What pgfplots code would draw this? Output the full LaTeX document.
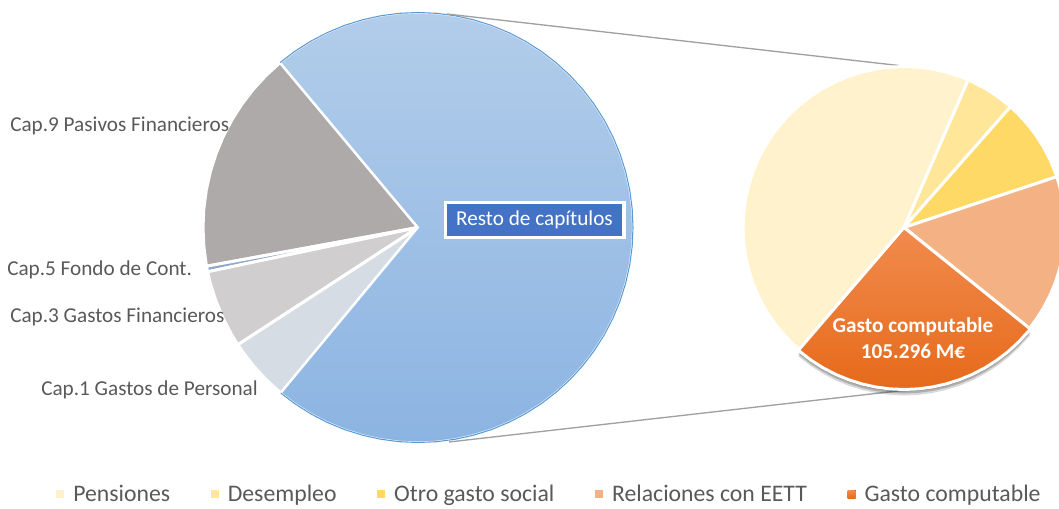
\documentclass[border=0pt]{standalone}
\usepackage{pgfplots}
\pgfplotsset{compat=1.18}
\usepgfplotslibrary{polar}
\usetikzlibrary{shadows}
\usepackage{fontspec}
\setmainfont{Carlito}
\definecolor{cRestoT}{RGB}{178,205,234}
\definecolor{cRestoB}{RGB}{140,180,226}
\definecolor{cRestoL}{RGB}{91,155,213}
\definecolor{cCapNueve}{RGB}{174,170,170}
\definecolor{cCapCinco}{RGB}{143,167,200}
\definecolor{cCapTres}{RGB}{208,206,206}
\definecolor{cCapUno}{RGB}{214,220,228}
\definecolor{cPens}{RGB}{255,242,204}
\definecolor{cDesem}{RGB}{255,230,153}
\definecolor{cOtro}{RGB}{255,217,102}
\definecolor{cRel}{RGB}{244,177,131}
\definecolor{cGastoT}{RGB}{241,139,78}
\definecolor{cGastoB}{RGB}{230,106,26}
\definecolor{cBox}{RGB}{68,114,196}
\definecolor{cTxt}{RGB}{89,89,89}
\definecolor{cConn}{RGB}{160,160,160}
\newcommand{\lblfont}{\fontsize{15.9}{19}\selectfont}
\begin{document}
\begin{tikzpicture}
\useasboundingbox (0,0) rectangle (794.25pt,381pt);
% ---------------- left pie (slice shares in % of total: Resto 72.1, Cap.9 16.8, Cap.5 0.42, Cap.3 5.88, Cap.1 4.8)
\begin{axis}[at={(0,0)}, anchor=south west, scale only axis,
  width=794.25pt, height=381pt, hide axis, clip=false,
  xmin=-418, xmax=641, ymin=-280.5, ymax=227.5]
\addplot[data cs=polar, fill=cCapNueve, draw=white, line width=2.25pt] coordinates {
 (0,0) (129.9,215) (135,215) (140,215) (145,215) (150,215) (155,215) (160,215) (165,215)
 (170,215) (175,215) (180,215) (185,215) (190,215) (190.38,215)} -- cycle;
\addplot[data cs=polar, fill=cCapCinco, draw=white, line width=2.25pt] coordinates {
 (0,0) (190.38,215) (191.1,215) (191.89,215)} -- cycle;
\addplot[data cs=polar, fill=cCapTres, draw=white, line width=2.25pt] coordinates {
 (0,0) (191.89,215) (195,215) (200,215) (205,215) (210,215) (213.06,215)} -- cycle;
\addplot[data cs=polar, fill=cCapUno, draw=white, line width=2.25pt] coordinates {
 (0,0) (213.06,215) (215,215) (220,215) (225,215) (230,215) (230.34,215)} -- cycle;
\addplot[data cs=polar, top color=cRestoT, bottom color=cRestoB, draw=white, line width=1.5pt] coordinates {
 (0,0) (-129.66,215) (-125,215) (-120,215) (-115,215) (-110,215) (-105,215) (-100,215)
 (-95,215) (-90,215) (-85,215) (-80,215) (-75,215) (-70,215) (-65,215) (-60,215) (-55,215)
 (-50,215) (-45,215) (-40,215) (-35,215) (-30,215) (-25,215) (-20,215) (-15,215) (-10,215)
 (-5,215) (0,215) (5,215) (10,215) (15,215) (20,215) (25,215) (30,215) (35,215) (40,215)
 (45,215) (50,215) (55,215) (60,215) (65,215) (70,215) (75,215) (80,215) (85,215) (90,215)
 (95,215) (100,215) (105,215) (110,215) (115,215) (120,215) (125,215) (129.9,215)} -- cycle;
\addplot[data cs=polar, draw=cRestoL, line width=0.8pt] coordinates {
 (-129.66,215) (-125,215) (-120,215) (-115,215) (-110,215) (-105,215) (-100,215)
 (-95,215) (-90,215) (-85,215) (-80,215) (-75,215) (-70,215) (-65,215) (-60,215) (-55,215)
 (-50,215) (-45,215) (-40,215) (-35,215) (-30,215) (-25,215) (-20,215) (-15,215) (-10,215)
 (-5,215) (0,215) (5,215) (10,215) (15,215) (20,215) (25,215) (30,215) (35,215) (40,215)
 (45,215) (50,215) (55,215) (60,215) (65,215) (70,215) (75,215) (80,215) (85,215) (90,215)
 (95,215) (100,215) (105,215) (110,215) (115,215) (120,215) (125,215) (129.9,215)};
\node[anchor=base west, inner sep=0pt, text=cTxt, font=\lblfont] at (axis cs:-408,95.5) {Cap.9 Pasivos Financieros};
\node[anchor=base west, inner sep=0pt, text=cTxt, font=\lblfont] at (axis cs:-411,-47.5) {Cap.5 Fondo de Cont.};
\node[anchor=base west, inner sep=0pt, text=cTxt, font=\lblfont] at (axis cs:-408,-94.5) {Cap.3 Gastos Financieros};
\node[anchor=base west, inner sep=0pt, text=cTxt, font=\lblfont] at (axis cs:-377,-167.5) {Cap.1 Gastos de Personal};
\node[fill=cBox, draw=white, line width=2.6pt, inner sep=0pt, minimum width=133.9pt,
  minimum height=26.2pt, text=white, font=\lblfont] at (axis cs:116.5,7.5) {Resto de capítulos};
\end{axis}
% ---------------- right pie (M EUR: Pensiones 186.5, Desempleo 20.5, Otro 34.6, Relaciones EETT 65.5, Gasto computable 105.296)
\begin{axis}[at={(0,0)}, anchor=south west, scale only axis,
  width=794.25pt, height=381pt, hide axis, clip=true,
  xmin=-904, xmax=155, ymin=-280.5, ymax=227.5,
  legend columns=-1,
  legend image code/.code={\fill[#1, draw=none] (0pt,-3pt) rectangle (6pt,3pt);},
  legend style={at={(rel axis cs:0.0529,0.0266)}, anchor=west, draw=none, fill=none,
    inner sep=0pt, nodes={inner sep=0pt, text=cTxt},
    font=\fontsize{17.8}{21}\selectfont,
    /tikz/every odd column/.append style={column sep=6.75pt},
    /tikz/every even column/.append style={column sep=30.5pt}}]
\addplot[forget plot, cConn, line width=1pt] coordinates {(-457,213.5) (-1,161.5)};
\addplot[forget plot, cConn, line width=1pt] coordinates {(-455,-214.5) (2,-162.5)};
\addplot[forget plot, data cs=polar, draw=none, fill=none,
  drop shadow={shadow xshift=0pt, shadow yshift=-4.5pt, opacity=0.15, fill=black},
  drop shadow={shadow xshift=0pt, shadow yshift=-3pt, opacity=0.2, fill=black},
  drop shadow={shadow xshift=0pt, shadow yshift=-1.5pt, opacity=0.25, fill=black}] coordinates {
 (0,0) (-130.7,162) (-130,162) (-125,162) (-120,162) (-115,162) (-110,162) (-105,162)
 (-100,162) (-95,162) (-90,162) (-85,162) (-80,162) (-75,162) (-70,162) (-65,162)
 (-60,162) (-55,162) (-50,162) (-45,162) (-40,162) (-38.8,162)} -- cycle;
\addplot[data cs=polar, fill=cPens, draw=white, line width=2.25pt] coordinates {
 (0,0) (66.5,161) (70,161) (75,161) (80,161) (85,161) (90,161) (95,161) (100,161) (105,161)
 (110,161) (115,161) (120,161) (125,161) (130,161) (135,161) (140,161) (145,161) (150,161)
 (155,161) (160,161) (165,161) (170,161) (175,161) (180,161) (185,161) (190,161) (195,161)
 (200,161) (205,161) (210,161) (215,161) (220,161) (225,161) (229.3,161)} -- cycle;
\addlegendentry{Pensiones}
\addplot[data cs=polar, fill=cDesem, draw=white, line width=2.25pt] coordinates {
 (0,0) (48.6,161) (50,161) (55,161) (60,161) (65,161) (66.5,161)} -- cycle;
\addlegendentry{Desempleo}
\addplot[data cs=polar, fill=cOtro, draw=white, line width=2.25pt] coordinates {
 (0,0) (18.4,161) (20,161) (25,161) (30,161) (35,161) (40,161) (45,161) (48.6,161)} -- cycle;
\addlegendentry{Otro gasto social}
\addplot[data cs=polar, fill=cRel, draw=white, line width=2.25pt] coordinates {
 (0,0) (-38.8,161) (-35,161) (-30,161) (-25,161) (-20,161) (-15,161) (-10,161) (-5,161)
 (0,161) (5,161) (10,161) (15,161) (18.4,161)} -- cycle;
\addlegendentry{Relaciones con EETT}
\addplot[data cs=polar, top color=cGastoT, bottom color=cGastoB, draw=white, line width=2.25pt] coordinates {
 (0,0) (-130.7,162) (-130,162) (-125,162) (-120,162) (-115,162) (-110,162) (-105,162)
 (-100,162) (-95,162) (-90,162) (-85,162) (-80,162) (-75,162) (-70,162) (-65,162)
 (-60,162) (-55,162) (-50,162) (-45,162) (-40,162) (-38.8,162)} -- cycle;
\addlegendentry{Gasto computable}
\node[anchor=base, inner sep=0pt, text=white, font=\lblfont\bfseries] at (axis cs:9,-104.5) {Gasto computable};
\node[anchor=base, inner sep=0pt, text=white, font=\lblfont\bfseries] at (axis cs:9,-130.5) {105.296 M€};
\end{axis}
\end{tikzpicture}
\end{document}
